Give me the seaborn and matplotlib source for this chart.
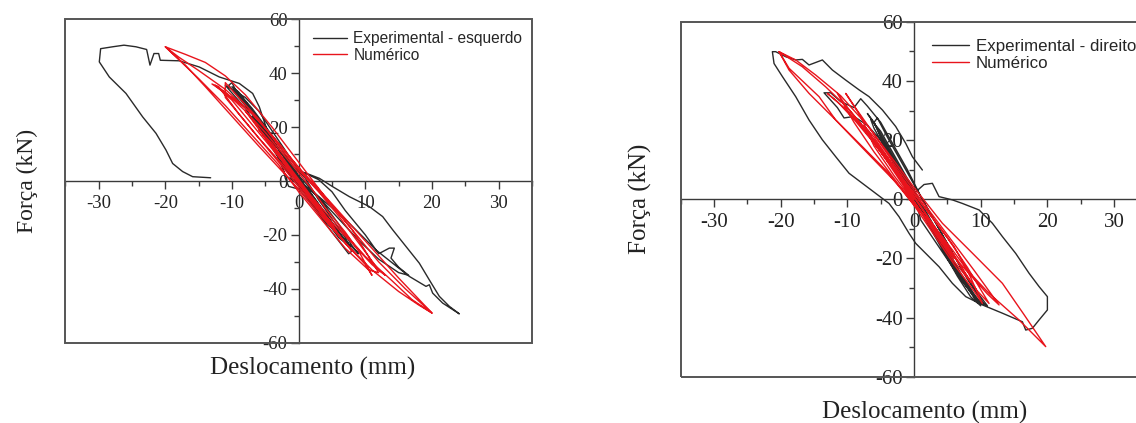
import numpy as np
import pandas as pd
import matplotlib
matplotlib.use("Agg")
import matplotlib.pyplot as plt
from matplotlib.patches import Rectangle
from matplotlib.font_manager import FontProperties
import seaborn as sns

# ---------------- data ----------------
x_ticks = [-30, -20, -10, 0, 10, 20, 30]
y_ticks = [-60, -40, -20, 0, 20, 40, 60]
x_label = "Deslocamento (mm)"
y_label = "Força (kN)"
legend_left = ["Experimental - esquerdo", "Numérico"]
legend_right = ["Experimental - direito", "Numérico"]

left_exp_x = [0, -2, -4, -2, 0, 2, 4, 2, 0,
              -3, -5, -7, -6, -4, -1, 1, 3, 5, 6, 4, 1, -1,
              -4, -7, -9, -10.5, -10, -9.5, -7, -4, -1, 1, 3, 5, 7, 8, 7.5, 5, 2, 0, -1.5, -2,
              -3, -6, -8.5, -9.5, -8, -5, -2, 1, 4, 6, 7.5, 6, 3, 0, -2,
              -4, -7, -10, -9, -6, -3, 0, 3, 6, 8, 9, 7, 4, 1, -1,
              -5, -8, -11, -10, -8, -6, -3, 0, 3, 5, 7, 10, 12, 13.6, 14.35, 13.85, 15, 16.5, 15, 12, 9, 6, 3, 0, -1.5,
              1, 3.1, 5.1, 7.6, 10.6, 12.6, 14.1, 16.1, 18.1, 19.6, 21.1, 22.6, 24.1, 21.6, 20.1, 19.6, 19.1,
              16.6, 14.1, 11.6, 9.1, 6.6, 3.6, 0.6, -1.9, -3.9, -4.9, -5.9, -6.9, -8.9, -11.9, -14.9, -17.9,
              -20.75, -21, -21.7, -22.3, -22.8, -24.4, -26.2, -27.9, -29.7, -29.9, -28.4, -25.9, -23.4, -21.4,
              -19.9, -18.9, -17.4, -15.9, -13.2]
left_exp_y = [0, 6, 13, 7, 1, -5, -12, -7, -1,
              9, 17, 24, 22, 15, 5, -2, -9, -16, -20, -15, -5, 1,
              14, 25, 31, 35.5, 36.5, 34, 27, 17, 6, 1, -7, -14, -21, -26, -27, -19, -9, -3, -2, 1,
              12, 22, 30, 33, 29, 19, 8, -2, -12, -19, -24, -21, -11, -1, 2,
              15, 26, 35, 33, 23, 12, 2, -6, -16, -24, -27, -22, -12, -3, 1,
              16, 27, 35.5, 34, 31, 26, 15, 4, 0.5, -4, -11, -20, -27, -24.9, -24.9, -28.6, -32, -35, -34, -29, -22, -14, -6, 0, 4,
              3, 1, -2.1, -5.8, -9.5, -13.2, -18.1, -24.3, -30.5, -36.7, -42.8, -46.5, -49.3, -45.3, -41.6, -38.5, -39.1,
              -35.4, -30.5, -25.6, -19.4, -13.2, -7, -0.9, 4.1, 14, 20.1, 27.5, 32.5, 36.2, 38.6, 42.3, 44.6,
              44.8, 47.3, 47.3, 43, 48.8, 49.8, 50.4, 49.8, 49.1, 44.2, 38.6, 32.5, 23.8, 17.7,
              11.5, 6.5, 3.5, 1.6, 1.2]

left_num_x = [0, -3, -6, -4, -1, 2, 5, 6, 4, 1, -2, -5, -8, -7, -4, -1, 2, 5, 8, 6, 3, 0,
              -2, -4, -6, -8, -10, -12.5, -11, -8, -5, -2, 0, 2, 4, 7, 9, 11, 10, 7, 4, 1, -2, -5, -8, -11,
              -11, -9, -6, -3, 0, 3, 6, 9, 12, 13, 11, 8, 4, 1, -2, -6, -9, -12, -13, -10, -7, -4, -1, 2, 5, 8,
              10, 12, 10.5, 7, 3, 0, -3, -7, -11, -15, -20, -18, -15, -11, -7, -3, 0, 3, 7, 11, 15, 20, 18, 15,
              11, 7, 3, 0, -3, -6, -10, -14, -17, -20, -17, -14, -11, -8, -4, 0, 4, 8, 12, 16, 20, 17, 14, 10, 6, 2]
left_num_y = [0, 10, 19, 14, 4, -6, -16, -20, -14, -4, 6, 16, 26, 23, 13, 3, -7, -17, -26, -20, -10, 0,
              6, 12, 18, 24, 30, 35.5, 33, 26, 18, 9, 3, -3, -10, -19, -26, -35, -31, -23, -14, -5, 4, 13, 22, 31,
              36.5, 31, 23, 13, 4, -4, -13, -23, -33, -35, -31, -23, -13, -4, 5, 16, 25, 35, 36, 31, 25, 17, 8, -1, -9, -18,
              -26, -34, -33, -25, -13, -4, 6, 17, 28, 38, 49.8, 46, 41, 34, 25, 14, 5, -3, -14, -25, -36, -49, -46, -41,
              -33, -23, -12, -3, 5, 13, 24, 35, 43, 49.8, 47, 44, 39, 32, 20, 7, -6, -18, -30, -40, -49, -44, -37, -28, -17, -6]

right_exp_x = [0, -2, -4, -6, -6.5, -5, -3, -1, 1, 3, 5, 7, 9, 10, 9, 7, 5, 3, 1, -1, -3, -5, -6, -5.5,
               -4, -2, 0, 2, 4, 6, 8, 10.5, 9.5, 7.5, 5.5, 3.5, 1.5, -0.5, -2.5, -4.5,
               -6, -7, -5.5, -3.5, -1.5, 0.5, 2.5, 4.5, 6.5, 8.5, 10, 8.5, 6.5, 4.5, 2.5, 0.5, -1, -3, -5,
               -7, -9, -10.5, -11.5, -13.5,
               -12.5, -11, -9, -8, -7, -5, -3, -1, 1, 3, 5, 7, 9, 11, 9.5, 7, 4, 1, 0, 1.5, 2.75,
               3.75, 5.75, 7.25, 9.75, 11.75, 13.25, 15.25, 17.25, 18.75, 20, 20, 18.75, 17.75, 16.75, 16.25,
               13.25, 10.25, 7.75, 5.75, 3.75, 2.25, 0.25, -0.75, -2.25, -3.75, -5.75, -7.75, -9.75, -11.75,
               -13.75, -15.75, -17.75, -19.75, -21, -21.25, -20.75, -19.25, -17.75, -16.75, -15.75, -13.75,
               -12.25, -10.25, -8.25, -6.75, -4.75, -2.75, -1.25, -0.25, 1.25]
right_exp_y = [0, 8, 16, 24, 27, 23, 15, 7, -1, -9, -17, -25, -32, -35, -33, -27, -19, -11, -3, 5, 13, 21, 26, 27.5,
               21, 13, 5, -3, -11, -19, -27, -35.5, -35, -28, -21, -13, -5, 3, 11, 19,
               26, 29, 24, 16, 8, 0, -8, -16, -24, -31, -36, -33, -26, -18, -10, -2, 3, 12, 20,
               25, 28, 27.5, 31, 36,
               36, 33, 31, 34, 31.5, 26, 18, 10, 1, -7, -15, -23, -30, -36, -34, -27, -17, -7, 2, 5, 5.4,
               0.9, -0.2, -1.4, -3.6, -8.1, -12.6, -18.3, -25, -29.5, -32.9, -37.4, -40.8, -43.6, -44.2, -41.4,
               -38.5, -35.7, -32.9, -28.4, -22.8, -19.4, -14.9, -11.5, -5.9, -1.4, 2, 5.4, 8.8, 14.4,
               20.1, 26.8, 34.7, 41.5, 45.9, 49.9, 49.9, 48.2, 47.1, 47.3, 45.4, 47.1,
               43.7, 40.3, 37, 34.7, 30.2, 24.6, 18.9, 14.4, 9.9]

right_num_x = [0, -3, -6, -4, -1, 2, 5, 6, 4, 1, -2, -5, -7.5, -6, -3, 0, 3, 6, 8.5, 6, 3, 0,
               -2, -4, -6, -8, -10, -13, -11.5, -9, -6, -3, 0, 3, 6, 8, 10.25, 9, 6, 3, 0, -3, -6, -9,
               -11.5, -10, -7, -4, -1, 2, 5, 8, 11.25, 9.5, 6.5, 3, 0, -3, -6, -8, -10.25, -8.5, -6, -3, 0, 3,
               6, 9, 12.75, 11, 7, 4, 1, -2, -5, -8, -11.75, -15.75, -18.75, -20.25, -17.75, -14.75, -11, -7,
               -3, 0, 4.25, 8.75, 13.25, 16.5, 19.75, 15.75, 11.25, 8, 5.75, 3, 0, -4.25, -7.75, -11.75,
               -14.25, -18.75, -20.25, -16.75, -13.25, -10, -6, -2]
right_num_y = [0, 10, 19, 14, 4, -6, -16, -20, -14, -4, 6, 16, 25, 21, 11, 1, -9, -19, -28, -21, -11, -1,
               7, 13, 19, 25, 30, 35.8, 33, 27, 19, 10, 2, -7, -16, -24, -35.2, -31, -22, -12, -2, 7, 16, 26,
               35.8, 31, 23, 14, 5, -4, -13, -23, -35.2, -31, -21, -10, -1, 8, 18, 28, 35.8, 30, 22, 12, 3, -6,
               -15, -24, -35.7, -32, -22, -13, -4, 4, 11, 18, 26.8, 35.8, 43.7, 49.9, 47.1, 42, 35, 25,
               13, 4, -8.1, -18.2, -28.4, -39, -49.8, -40.8, -31.8, -24, -17.1, -9, -2, 9.9, 17.8, 26.8,
               34.7, 44.3, 49.9, 44.8, 38, 31, 20, 8]

# ---------------- style ----------------
sns.set_theme(style="white")
plt.rcParams["font.family"] = ["Liberation Serif", "DejaVu Serif"]
plt.rcParams["axes.unicode_minus"] = False

BLACK = "#2a2a2a"
RED = "#e8141c"
FRAME = "#555555"

fig = plt.figure(figsize=(11.36, 4.23), dpi=100)
W, H = 1136, 423


def make_axes(left_px, top_px, width_px, height_px):
    return fig.add_axes([left_px / W, 1 - (top_px + height_px) / H, width_px / W, height_px / H])


ax1 = make_axes(65.3, 19.3, 466.7, 323.4)
ax2 = make_axes(680.7, 21.8, 466.7, 355.0)

panels = [
    (ax1, left_exp_x, left_exp_y, left_num_x, left_num_y, legend_left, 13.5, 11.2, (313, 31)),
    (ax2, right_exp_x, right_exp_y, right_num_x, right_num_y, legend_right, 15.0, 12.2, (932, 39)),
]

for ax, ex, ey, nx, ny, labels, tsize, lsize, leg_xy in panels:
    ax.set_facecolor("white")
    exp_df = pd.DataFrame({"x": ex, "y": ey})
    num_df = pd.DataFrame({"x": nx, "y": ny})
    sns.lineplot(data=exp_df, x="x", y="y", sort=False, estimator=None, color=BLACK,
                 lw=1.0, ax=ax, label=labels[0], zorder=3)
    sns.lineplot(data=num_df, x="x", y="y", sort=False, estimator=None, color=RED,
                 lw=1.0, ax=ax, label=labels[1], zorder=4)
    ax.set_xlim(-35, 35)
    ax.set_ylim(-60, 60)
    ax.set_xlabel("")
    ax.set_ylabel("")
    ax.set_xticks(x_ticks)
    ax.set_yticks(y_ticks)
    ax.set_xticks([t + 5 for t in x_ticks[:-1]] + [-35, 35], minor=True)
    ax.set_yticks([t + 10 for t in y_ticks[:-1]], minor=True)
    ax.set_xticklabels([str(t) for t in x_ticks])
    ax.set_yticklabels([str(t) for t in y_ticks])

    for s in ["top", "right"]:
        ax.spines[s].set_visible(False)
    ax.spines["left"].set_position(("data", 0))
    ax.spines["bottom"].set_position(("data", 0))
    for s in ["left", "bottom"]:
        ax.spines[s].set_color("#3a3a3a")
        ax.spines[s].set_linewidth(1.0)
        ax.spines[s].set_zorder(2)
    ax.add_patch(Rectangle((0, 0), 1, 1, transform=ax.transAxes, fill=False,
                           edgecolor=FRAME, lw=1.4, clip_on=False, zorder=5))

    ax.tick_params(axis="both", which="major", direction="out", length=6, width=1,
                   color="#3a3a3a", labelsize=tsize, labelcolor="#222222")
    ax.tick_params(axis="both", which="minor", direction="out", length=3.5, width=1,
                   color="#3a3a3a")
    ax.tick_params(axis="x", which="major", pad=4)
    ax.tick_params(axis="y", which="major", pad=2)
    ax.xaxis.set_ticks_position("bottom")
    ax.yaxis.set_ticks_position("left")

    handles, labs = ax.get_legend_handles_labels()
    ax.legend(handles, labs, loc="upper left",
              bbox_to_anchor=(leg_xy[0] / W, 1 - leg_xy[1] / H), bbox_transform=fig.transFigure,
              frameon=False, prop=FontProperties(family="Liberation Sans", size=lsize),
              handlelength=2.2, handletextpad=0.4, labelspacing=0.1, borderpad=0,
              borderaxespad=0)

# axis titles
fig.text(313 / W, 1 - 368 / H, x_label, ha="center", va="center", fontsize=18, color="#222222")
fig.text(925 / W, 1 - 412 / H, x_label, ha="center", va="center", fontsize=18, color="#222222")
fig.text(27 / W, 1 - 181 / H, y_label, ha="center", va="center", rotation=90, fontsize=17, color="#222222")
fig.text(640 / W, 1 - 199 / H, y_label, ha="center", va="center", rotation=90, fontsize=18, color="#222222")

fig.savefig("out.png", dpi=100, facecolor="white")
